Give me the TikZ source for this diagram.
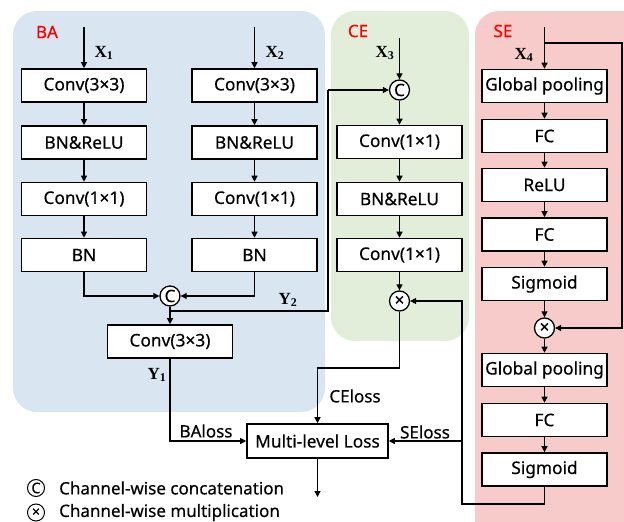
\documentclass[tikz,border=0pt]{standalone}
\usepackage{fontspec}
\setmainfont{Liberation Serif}
\newfontfamily\uif[FakeBold=0.4]{Noto Sans}
\usetikzlibrary{arrows.meta}
\definecolor{bablue}{HTML}{DAE5F2}
\definecolor{cegreen}{HTML}{E2EED9}
\definecolor{sepink}{HTML}{F8CBCB}
\tikzset{
  blk/.style={draw, line width=1.6pt, fill=white, minimum width=125pt, minimum height=33pt, inner sep=0pt, font=\uif\fontsize{17.3}{17.3}\selectfont},
  circ/.style={draw, circle, line width=1.3pt, fill=white, minimum size=20pt, inner sep=0pt, font=\uif\fontsize{17}{17}\selectfont},
  lcirc/.style={draw, circle, line width=1pt, minimum size=17pt, inner sep=0pt, font=\uif\fontsize{14.5}{14.5}\selectfont},
  arr/.style={line width=1.2pt, -{Triangle[length=6pt,width=6pt]}},
  ln/.style={line width=1.2pt},
  xlab/.style={font=\fontsize{17}{17}\selectfont\bfseries, inner sep=0pt},
  lbl/.style={font=\uif\fontsize{17}{17}\selectfont, inner sep=0pt},
  panellbl/.style={font=\uif\fontsize{17}{17}\selectfont, text=red, inner sep=0pt},
}
\begin{document}
\begin{tikzpicture}[x=1pt,y=-1pt]
\clip (0,0) rectangle (624,522);
% panels
\fill[bablue, rounded corners=24pt] (13,11) rectangle (325,412);
\fill[cegreen, rounded corners=24pt] (331,11) rectangle (469,341);
\fill[sepink, rounded corners=24pt] (475,11) rectangle (680,580);
\node[panellbl] (tba) at (47,32) {BA};
\node[panellbl] (tce) at (358,31) {CE};
\node[panellbl] (tse) at (503,31) {SE};
% BA left
\node[blk] (a1) at (84,85.5) {Conv(3×3)};
\node[blk] (a2) at (84,142.5) {BN\&ReLU};
\node[blk] (a3) at (84,199) {Conv(1×1)};
\node[blk] (a4) at (84,255) {BN};
% BA right
\node[blk] (b1) at (254.5,85.5) {Conv(3×3)};
\node[blk] (b2) at (254.5,142.5) {BN\&ReLU};
\node[blk] (b3) at (254.5,199) {Conv(1×1)};
\node[blk] (b4) at (254.5,255) {BN};
\node[circ] (cba) at (170,296) {C};
\node[blk] (a5) at (170,341.5) {Conv(3×3)};
% CE
\node[circ] (cce) at (399.5,90) {C};
\node[blk] (c1) at (399.5,142) {Conv(1×1)};
\node[blk] (c2) at (399.5,199) {BN\&ReLU};
\node[blk] (c3) at (399.5,255) {Conv(1×1)};
\node[circ] (cmul) at (399.5,301) {×};
% SE
\node[blk] (s1) at (544.5,86) {Global pooling};
\node[blk] (s2) at (544.5,136) {FC};
\node[blk] (s3) at (544.5,185) {ReLU};
\node[blk] (s4) at (544.5,234.5) {FC};
\node[blk] (s5) at (544.5,284) {Sigmoid};
\node[circ] (smul) at (544.5,328) {×};
\node[blk] (s6) at (544.5,370) {Global pooling};
\node[blk] (s7) at (544.5,420) {FC};
\node[blk] (s8) at (544.5,469.5) {Sigmoid};
% loss
\node[blk, minimum width=141pt, minimum height=34pt] (mll) at (317.5,441) {Multi-level Loss};
% inputs
\coordinate (x1) at (84,27);
\coordinate (x2) at (254.5,27);
\coordinate (x3) at (399.5,38);
\coordinate (x4) at (544.5,27);
\draw[arr] (x1) -- (a1);
\draw[arr] (x2) -- (b1);
\draw[arr] (x3) -- (cce);
\draw[arr] (x4) -- (s1);
\node[xlab] (lx1) at (104,53) {X\textsubscript{1}};
\node[xlab] (lx2) at (275,53) {X\textsubscript{2}};
\node[xlab] (lx3) at (385,53) {X\textsubscript{3}};
\node[xlab] (lx4) at (524,55) {X\textsubscript{4}};
% chains
\draw[arr] (a1) -- (a2); \draw[arr] (a2) -- (a3); \draw[arr] (a3) -- (a4);
\draw[arr] (b1) -- (b2); \draw[arr] (b2) -- (b3); \draw[arr] (b3) -- (b4);
\draw[arr] (a4.south) |- (cba.west);
\draw[arr] (b4.south) |- (cba.east);
\draw[arr] (cba) -- (a5);
\coordinate (y2s) at (170,311);
\coordinate (y2c) at (328,90);
\draw[ln] (y2s) -| (y2c);
\draw[arr] (y2c) -- (cce.west);
\node[xlab] (ly2) at (288,300) {Y\textsubscript{2}};
\node[xlab] (ly1) at (157,375) {Y\textsubscript{1}};
\draw[arr] (cce) -- (c1); \draw[arr] (c1) -- (c2); \draw[arr] (c2) -- (c3); \draw[arr] (c3) -- (cmul);
\draw[arr] (s1) -- (s2); \draw[arr] (s2) -- (s3); \draw[arr] (s3) -- (s4); \draw[arr] (s4) -- (s5);
\draw[arr] (s5) -- (smul); \draw[arr] (smul) -- (s6); \draw[arr] (s6) -- (s7); \draw[arr] (s7) -- (s8);
% X4 branch
\coordinate (x4b) at (544.5,43);
\coordinate (x4r) at (622,43);
\draw[arr] (x4b) -- (x4r) |- (smul.east);
% SE output
\coordinate (so1) at (462,504);
\coordinate (so2) at (462,441);
\draw[arr] (s8.south) |- (so1) |- (cmul.east);
\draw[arr] (so2) -- (mll.east);
% losses
\draw[arr] (a5.south) |- (mll.west);
\coordinate (ce1) at (399.5,368);
\draw[arr] (cmul.south) -- (ce1) -| (mll.north);
\coordinate (out) at (317.5,497);
\draw[arr] (mll.south) -- (out);
\node[lbl] (lba) at (206,431) {BAloss};
\node[lbl] (lce) at (355,396) {CEloss};
\node[lbl] (lse) at (425,432) {SEloss};
% legend
\node[lcirc] (lg1) at (36,488) {C};
\node[lbl, anchor=west] (lt1) at (59,488) {Channel-wise concatenation};
\node[lcirc] (lg2) at (36,512.5) {×};
\node[lbl, anchor=west] (lt2) at (59,512.5) {Channel-wise multiplication};
\end{tikzpicture}
\end{document}
